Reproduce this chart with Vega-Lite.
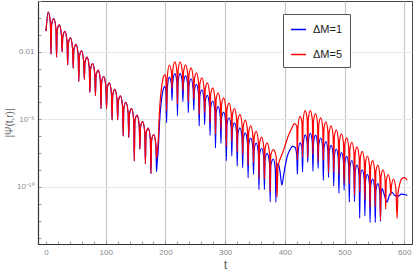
{
"$schema": "https://vega.github.io/schema/vega-lite/v6.json",
"width": 374, "height": 243,
"autosize": {"type": "none"},
"padding": {"left": 38, "top": 1, "right": 3, "bottom": 33},
"background": "white",
"config": {"view": {"stroke": "#444", "strokeWidth": 1}, "font": "Liberation Sans"},
"data": {"values": [
{"t":0,"b":0.166,"r":0.166},
{"t":3.75,"b":2.24,"r":2.24},
{"t":7.4,"b":0.5,"r":0.5},
{"t":8.4,"b":7.18e-3,"r":7.18e-3},
{"t":9.4,"b":0.412,"r":0.412},
{"t":13.05,"b":0.923,"r":0.923},
{"t":16.7,"b":0.207,"r":0.207},
{"t":17.7,"b":4.72e-3,"r":4.72e-3},
{"t":18.7,"b":0.171,"r":0.171},
{"t":22.35,"b":0.384,"r":0.384},
{"t":26,"b":8.59e-2,"r":8.59e-2},
{"t":27,"b":9.84e-3,"r":9.84e-3},
{"t":28,"b":7.11e-2,"r":7.11e-2},
{"t":31.65,"b":0.159,"r":0.159},
{"t":35.3,"b":3.57e-2,"r":3.57e-2},
{"t":36.3,"b":1.63e-3,"r":1.63e-3},
{"t":37.3,"b":2.96e-2,"r":2.96e-2},
{"t":40.95,"b":6.62e-2,"r":6.62e-2},
{"t":44.6,"b":1.48e-2,"r":1.48e-2},
{"t":45.6,"b":1.07e-3,"r":1.07e-3},
{"t":46.6,"b":1.23e-2,"r":1.23e-2},
{"t":50.25,"b":2.75e-2,"r":2.75e-2},
{"t":53.9,"b":6.17e-3,"r":6.17e-3},
{"t":54.9,"b":1.77e-4,"r":1.77e-4},
{"t":55.9,"b":5.11e-3,"r":5.11e-3},
{"t":59.55,"b":1.14e-2,"r":1.14e-2},
{"t":63.2,"b":2.56e-3,"r":2.56e-3},
{"t":64.2,"b":2.33e-4,"r":2.33e-4},
{"t":65.2,"b":2.12e-3,"r":2.12e-3},
{"t":68.85,"b":4.75e-3,"r":4.75e-3},
{"t":72.5,"b":1.06e-3,"r":1.06e-3},
{"t":73.5,"b":3.85e-5,"r":3.85e-5},
{"t":74.5,"b":8.81e-4,"r":8.81e-4},
{"t":78.15,"b":1.98e-3,"r":1.98e-3},
{"t":81.8,"b":4.43e-4,"r":4.43e-4},
{"t":82.8,"b":2.54e-5,"r":2.54e-5},
{"t":83.8,"b":3.66e-4,"r":3.66e-4},
{"t":87.45,"b":8.22e-4,"r":8.22e-4},
{"t":91.1,"b":1.84e-4,"r":1.84e-4},
{"t":92.1,"b":4.21e-6,"r":4.21e-6},
{"t":93.1,"b":1.52e-4,"r":1.52e-4},
{"t":96.75,"b":3.41e-4,"r":3.41e-4},
{"t":100.4,"b":7.66e-5,"r":7.66e-5},
{"t":101.4,"b":4.4e-6,"r":4.4e-6},
{"t":102.4,"b":6.34e-5,"r":6.34e-5},
{"t":106.05,"b":1.42e-4,"r":1.42e-4},
{"t":109.7,"b":3.18e-5,"r":3.18e-5},
{"t":110.7,"b":9.14e-7,"r":9.14e-7},
{"t":111.7,"b":2.63e-5,"r":2.63e-5},
{"t":115.35,"b":5.9e-5,"r":5.9e-5},
{"t":119,"b":1.32e-5,"r":1.32e-5},
{"t":120,"b":9.55e-7,"r":9.55e-7},
{"t":121,"b":1.09e-5,"r":1.09e-5},
{"t":124.65,"b":2.45e-5,"r":2.45e-5},
{"t":128.3,"b":5.5e-6,"r":5.5e-6},
{"t":129.3,"b":1.0e-7,"r":1.0e-7},
{"t":130.3,"b":4.55e-6,"r":4.55e-6},
{"t":133.95,"b":1.02e-5,"r":1.02e-5},
{"t":137.6,"b":2.28e-6,"r":2.28e-6},
{"t":138.6,"b":8.26e-8,"r":8.26e-8},
{"t":139.6,"b":1.89e-6,"r":1.89e-6},
{"t":143.25,"b":4.24e-6,"r":4.24e-6},
{"t":146.9,"b":9.48e-7,"r":9.48e-7},
{"t":147.9,"b":3.44e-9,"r":3.44e-9},
{"t":148.9,"b":7.85e-7,"r":7.85e-7},
{"t":152.55,"b":1.76e-6,"r":1.76e-6},
{"t":156.2,"b":3.94e-7,"r":3.94e-7},
{"t":157.2,"b":1.8e-8,"r":1.8e-8},
{"t":158.2,"b":3.27e-7,"r":3.27e-7},
{"t":161.85,"b":7.31e-7,"r":7.31e-7},
{"t":165.5,"b":1.64e-7,"r":1.64e-7},
{"t":166.5,"b":2.36e-9,"r":2.36e-9},
{"t":167.5,"b":1.36e-7,"r":1.36e-7},
{"t":171.15,"b":3.04e-7,"r":3.04e-7},
{"t":174.8,"b":6.81e-8,"r":6.81e-8},
{"t":175.8,"b":6.19e-10,"r":6.19e-10},
{"t":176.8,"b":5.64e-8,"r":5.64e-8},
{"t":180.45,"b":1.26e-7,"r":1.26e-7},
{"t":184.1,"b":2.83e-8,"r":2.83e-8},
{"t":185.1,"b":7.94e-10,"r":5.01e-9},
{"t":186.3,"b":3.16e-9,"r":1e-8},
{"t":188,"b":1.58e-8,"r":6.31e-8},
{"t":190,"b":5.01e-7,"r":2.51e-6},
{"t":192,"b":5.01e-6,"r":2.51e-5},
{"t":194,"b":2.0e-5,"r":1e-4},
{"t":196.5,"b":6.31e-5,"r":3.16e-4},
{"t":199.2,"b":8.91e-5,"r":4.47e-4},
{"t":201,"b":3.98e-5,"r":2.0e-4},
{"t":202,"b":6.31e-7,"r":3.16e-6},
{"t":203,"b":5.62e-5,"r":2.82e-4},
{"t":206.55,"b":3.16e-4,"r":1.58e-3},
{"t":210.1,"b":1.26e-4,"r":6.31e-4},
{"t":211.1,"b":1.32e-5,"r":6.61e-5},
{"t":212.1,"b":1.35e-4,"r":6.76e-4},
{"t":215.65,"b":5.01e-4,"r":2.51e-3},
{"t":219.2,"b":1.66e-4,"r":7.94e-4},
{"t":220.2,"b":1.66e-6,"r":7.94e-6},
{"t":221.2,"b":1.62e-4,"r":7.76e-4},
{"t":224.75,"b":5.01e-4,"r":2.4e-3},
{"t":228.3,"b":1.45e-4,"r":6.61e-4},
{"t":229.3,"b":1.12e-5,"r":5.01e-5},
{"t":230.3,"b":1.38e-4,"r":6.03e-4},
{"t":233.85,"b":3.8e-4,"r":1.66e-3},
{"t":237.4,"b":1.02e-4,"r":4.47e-4},
{"t":238.4,"b":2.45e-6,"r":1.07e-5},
{"t":239.4,"b":9.33e-5,"r":4.07e-4},
{"t":242.95,"b":2.51e-4,"r":1.1e-3},
{"t":246.5,"b":5.89e-5,"r":2.69e-4},
{"t":247.5,"b":3.47e-6,"r":1.55e-5},
{"t":248.5,"b":5.01e-5,"r":2.29e-4},
{"t":252.05,"b":1.18e-4,"r":5.57e-4},
{"t":255.6,"b":2.75e-5,"r":1.35e-4},
{"t":256.6,"b":4.07e-7,"r":2.0e-6},
{"t":257.6,"b":2.34e-5,"r":1.17e-4},
{"t":261.15,"b":5.51e-5,"r":2.82e-4},
{"t":264.7,"b":1.29e-5,"r":6.92e-5},
{"t":265.7,"b":4.79e-7,"r":2.51e-6},
{"t":266.7,"b":1.1e-5,"r":5.89e-5},
{"t":270.25,"b":2.58e-5,"r":1.43e-4},
{"t":273.8,"b":6.03e-6,"r":3.47e-5},
{"t":274.8,"b":1.12e-7,"r":6.46e-7},
{"t":275.8,"b":5.13e-6,"r":2.95e-5},
{"t":279.35,"b":1.21e-5,"r":7.23e-5},
{"t":282.9,"b":2.82e-6,"r":1.74e-5},
{"t":283.9,"b":2.04e-8,"r":1.29e-7},
{"t":284.9,"b":2.4e-6,"r":1.51e-5},
{"t":288.45,"b":5.62e-6,"r":3.66e-5},
{"t":292,"b":1.32e-6,"r":8.91e-6},
{"t":293,"b":3.8e-8,"r":2.57e-7},
{"t":294,"b":1.12e-6,"r":7.59e-6},
{"t":297.55,"b":2.63e-6,"r":1.85e-5},
{"t":301.1,"b":6.17e-7,"r":4.47e-6},
{"t":302.1,"b":3.55e-9,"r":2.63e-8},
{"t":303.1,"b":5.25e-7,"r":3.89e-6},
{"t":306.65,"b":1.24e-6,"r":9.2e-6},
{"t":310.2,"b":3.02e-7,"r":2.14e-6},
{"t":311.2,"b":6.92e-9,"r":5.01e-8},
{"t":312.2,"b":2.57e-7,"r":1.82e-6},
{"t":315.75,"b":6.22e-7,"r":4.24e-6},
{"t":319.3,"b":1.51e-7,"r":1.0e-6},
{"t":320.3,"b":1.74e-9,"r":1.15e-8},
{"t":321.3,"b":1.29e-7,"r":8.32e-7},
{"t":324.85,"b":3.11e-7,"r":1.95e-6},
{"t":328.4,"b":7.41e-8,"r":4.57e-7},
{"t":329.4,"b":1.38e-9,"r":8.32e-9},
{"t":330.4,"b":6.46e-8,"r":3.8e-7},
{"t":333.95,"b":1.56e-7,"r":8.99e-7},
{"t":337.5,"b":3.72e-8,"r":2.09e-7},
{"t":338.5,"b":3.47e-10,"r":1.95e-9},
{"t":339.5,"b":3.24e-8,"r":1.78e-7},
{"t":343.05,"b":7.78e-8,"r":4.14e-7},
{"t":346.6,"b":1.86e-8,"r":9.77e-8},
{"t":347.6,"b":5.5e-10,"r":2.82e-9},
{"t":348.6,"b":1.62e-8,"r":8.13e-8},
{"t":352.15,"b":3.88e-8,"r":1.91e-7},
{"t":355.7,"b":9.33e-9,"r":4.47e-8},
{"t":356.7,"b":6.92e-11,"r":3.24e-10},
{"t":357.7,"b":8.13e-9,"r":3.8e-8},
{"t":361.25,"b":1.94e-8,"r":8.79e-8},
{"t":364.8,"b":4.68e-9,"r":2.04e-8},
{"t":365.8,"b":6.92e-11,"r":2.95e-10},
{"t":366.8,"b":3.98e-9,"r":1.74e-8},
{"t":370.35,"b":9.7e-9,"r":4.05e-8},
{"t":374.5,"b":2.24e-9,"r":8.91e-9},
{"t":375.5,"b":1.32e-11,"r":5.25e-11},
{"t":376.5,"b":1.91e-9,"r":7.59e-9},
{"t":380.8,"b":4.47e-9,"r":1.62e-8},
{"t":384,"b":1.12e-9},
{"t":385,"b":1.26e-11},
{"t":385.5,"r":6.31e-9},
{"t":386,"b":1.0e-9},
{"t":387,"r":2.51e-11},
{"t":388.5,"r":1.58e-9},
{"t":389,"b":2.51e-9},
{"t":391,"r":3.55e-9},
{"t":392,"b":7.94e-10},
{"t":395,"b":1.26e-10,"r":7.94e-9},
{"t":398,"b":5.01e-10},
{"t":400,"r":2.51e-8},
{"t":401,"b":2.0e-9},
{"t":404,"b":6.31e-9,"r":7.08e-8},
{"t":408,"b":1.41e-8,"r":1.58e-7},
{"t":412,"r":3.16e-7},
{"t":413,"b":2.51e-8},
{"t":416,"r":5.62e-7},
{"t":417,"b":2.24e-8},
{"t":420,"b":7.94e-9,"r":3.98e-7},
{"t":421,"b":5.62e-10,"r":3.98e-9},
{"t":422,"b":7.94e-9,"r":3.31e-7},
{"t":425.35,"b":4.07e-8,"r":1.51e-6},
{"t":428.7,"b":2.14e-8,"r":6.92e-7},
{"t":429.7,"b":7.76e-10,"r":6.03e-9},
{"t":430.7,"b":2.82e-8,"r":8.51e-7},
{"t":434.05,"b":1.21e-7,"r":3.24e-6},
{"t":437.4,"b":4.37e-8,"r":1.07e-6},
{"t":438.4,"b":2.88e-9,"r":5.5e-9},
{"t":439.4,"b":4.79e-8,"r":1.1e-6},
{"t":442.75,"b":1.5e-7,"r":3.28e-6},
{"t":446.1,"b":4.37e-8,"r":9.12e-7},
{"t":447.1,"b":8.51e-10,"r":8.71e-9},
{"t":448.1,"b":4.07e-8,"r":8.32e-7},
{"t":451.45,"b":1.16e-7,"r":2.19e-6},
{"t":454.8,"b":3.24e-8,"r":5.5e-7},
{"t":455.8,"b":1.23e-9,"r":3.24e-9},
{"t":456.8,"b":2.95e-8,"r":4.79e-7},
{"t":460.15,"b":7.87e-8,"r":1.23e-6},
{"t":463.5,"b":2.04e-8,"r":3.16e-7},
{"t":464.5,"b":2.45e-10,"r":3.72e-9},
{"t":465.5,"b":1.82e-8,"r":2.75e-7},
{"t":468.85,"b":4.78e-8,"r":7.13e-7},
{"t":472.2,"b":1.23e-8,"r":1.82e-7},
{"t":473.2,"b":3.72e-10,"r":6.76e-10},
{"t":474.2,"b":1.1e-8,"r":1.62e-7},
{"t":477.55,"b":2.89e-8,"r":4.11e-7},
{"t":480.9,"b":7.59e-9,"r":1.05e-7},
{"t":481.9,"b":1.12e-10,"r":7.76e-10},
{"t":482.9,"b":6.76e-9,"r":9.33e-8},
{"t":486.25,"b":1.75e-8,"r":2.38e-7},
{"t":489.6,"b":4.57e-9,"r":6.03e-8},
{"t":490.6,"b":4.27e-11,"r":5.75e-10},
{"t":491.6,"b":4.07e-9,"r":5.37e-8},
{"t":494.95,"b":1.06e-8,"r":1.37e-7},
{"t":498.3,"b":2.75e-9,"r":3.55e-8},
{"t":499.3,"b":6.61e-11,"r":1.66e-10},
{"t":500.3,"b":2.45e-9,"r":3.09e-8},
{"t":503.65,"b":6.44e-9,"r":7.92e-8},
{"t":507,"b":1.66e-9,"r":2.04e-8},
{"t":508,"b":1.26e-11,"r":1.51e-10},
{"t":509,"b":1.48e-9,"r":1.78e-8},
{"t":512.35,"b":3.66e-9,"r":4.41e-8},
{"t":515.7,"b":9.12e-10,"r":1.1e-8},
{"t":516.7,"b":1.35e-11,"r":3.24e-11},
{"t":517.7,"b":7.76e-10,"r":9.55e-9},
{"t":521.05,"b":1.95e-9,"r":2.36e-8},
{"t":524.4,"b":4.79e-10,"r":5.89e-9},
{"t":525.4,"b":1.41e-12,"r":5.5e-11},
{"t":526.4,"b":4.17e-10,"r":5.13e-9},
{"t":529.75,"b":1.04e-9,"r":1.26e-8},
{"t":533.1,"b":2.57e-10,"r":3.16e-9},
{"t":534.1,"b":1.91e-12,"r":1.86e-11},
{"t":535.1,"b":2.24e-10,"r":2.69e-9},
{"t":538.45,"b":5.51e-10,"r":6.76e-9},
{"t":541.8,"b":1.38e-10,"r":1.7e-9},
{"t":542.8,"b":7.94e-13,"r":6.17e-12},
{"t":543.8,"b":1.17e-10,"r":1.45e-9},
{"t":547.15,"b":2.93e-10,"r":3.63e-9},
{"t":550.5,"b":7.24e-11,"r":8.91e-10},
{"t":551.5,"b":7.94e-13,"r":6.61e-12},
{"t":552.5,"b":6.31e-11,"r":7.76e-10},
{"t":555.85,"b":1.56e-10,"r":1.94e-9},
{"t":559.2,"b":3.89e-11,"r":4.79e-10},
{"t":560.2,"b":9.12e-13,"r":1.12e-12},
{"t":561.2,"b":3.55e-11,"r":4.17e-10},
{"t":563,"b":7.94e-11},
{"t":564.55,"r":1.04e-9},
{"t":566.5,"b":3.55e-11},
{"t":567.9,"r":2.57e-10},
{"t":568.9,"r":4.79e-12},
{"t":569.9,"r":2.24e-10},
{"t":571,"b":1.26e-11},
{"t":573.25,"r":5.36e-10},
{"t":575,"b":3.16e-11},
{"t":576.6,"r":1.32e-10},
{"t":577.6,"r":3.16e-11},
{"t":578.6,"r":1.15e-10},
{"t":579,"b":5.01e-11},
{"t":582,"r":2.95e-10},
{"t":584,"b":3.16e-11},
{"t":586,"r":7.94e-11},
{"t":588,"r":1.38e-12},
{"t":589.5,"r":3.98e-11},
{"t":590,"b":2.82e-11},
{"t":592,"r":1.26e-10},
{"t":595,"b":3.8e-11},
{"t":596,"r":3.16e-10},
{"t":600,"b":3.55e-11,"r":3.55e-10},
{"t":605,"b":3.16e-11,"r":2.51e-10}
]},
"transform": [{"fold": ["b", "r"], "as": ["s", "v"]}, {"filter": "isValid(datum.v)"}],
"mark": {"type": "line", "interpolate": "monotone", "strokeWidth": 1.2, "clip": true},
"encoding": {
"x": {"field": "t", "type": "quantitative",
  "scale": {"domain": [-13.4, 613], "nice": false, "zero": false},
  "axis": {"title": "t", "values": [0,20,40,60,80,100,120,140,160,180,200,220,240,260,280,300,320,340,360,380,400,420,440,460,480,500,520,540,560,580,600],
    "labelExpr": "datum.value % 100 === 0 ? datum.label : ''", "labelOverlap": false, "labelFlush": false,
    "grid": true, "gridColor": "#c8c8c8", "gridWidth": 1.2,
    "gridOpacity": {"condition": {"test": "datum.value % 100 === 0 && datum.value > 0", "value": 1}, "value": 0},
    "tickSize": -3, "tickColor": "#999", "domainColor": "#333", "domainWidth": 1.2,
    "labelPadding": 7, "labelFontSize": 8, "labelColor": "#8a8a8a",
    "titleFontSize": 13, "titleColor": "#666", "titleFontWeight": "normal", "titlePadding": 2}},
"y": {"field": "v", "type": "quantitative",
  "scale": {"type": "log", "domain": [4.2e-14, 10], "nice": false},
  "axis": {"title": "|Ψ(t,r)|", "values": [1e-13,1e-12,1e-11,1e-10,1e-9,1e-8,1e-7,1e-6,1e-5,1e-4,1e-3,1e-2,1e-1,1,10],
    "labelExpr": "abs(log(datum.value)/LN10 + 2) < 0.1 ? '0.01' : abs(log(datum.value)/LN10 + 6) < 0.1 ? '10⁻⁶' : abs(log(datum.value)/LN10 + 10) < 0.1 ? '10⁻¹⁰' : ''",
    "labelOverlap": false, "labelFlush": false,
    "grid": true, "gridColor": "#e8e8e8", "gridWidth": 1,
    "gridOpacity": {"condition": {"test": "abs(log(datum.value)/LN10 + 2) < 0.1 || abs(log(datum.value)/LN10 + 6) < 0.1 || abs(log(datum.value)/LN10 + 10) < 0.1", "value": 1}, "value": 0},
    "tickSize": -3, "tickColor": "#999", "domainColor": "#333", "domainWidth": 1.2,
    "labelPadding": 7, "labelFontSize": 8, "labelColor": "#8a8a8a",
    "titleFontSize": 10, "titleColor": "#666", "titleFontWeight": "normal", "titlePadding": 2}},
"color": {"field": "s", "type": "nominal",
  "scale": {"domain": ["b", "r"], "range": ["#0000ff", "#ff0000"]},
  "legend": {"title": null, "orient": "none", "legendX": 245, "legendY": 13, "direction": "vertical",
    "fillColor": "white", "strokeColor": "#555", "padding": 7, "rowPadding": 11,
    "symbolType": "stroke", "symbolSize": 225, "symbolStrokeWidth": 1.5,
    "labelFontSize": 11, "labelColor": "#222", "labelOffset": 6,
    "labelExpr": "datum.label == 'b' ? 'ΔM=1' : 'ΔM=5'"}}
}
}
